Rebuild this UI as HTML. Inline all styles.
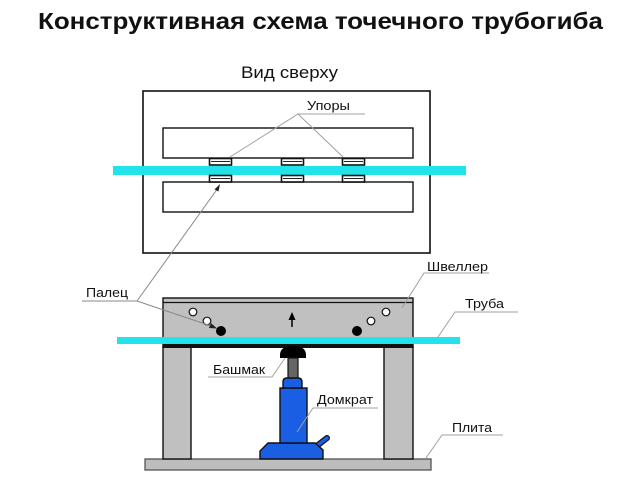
<!DOCTYPE html>
<html>
<head>
<meta charset="utf-8">
<style>
html,body{margin:0;padding:0;background:#fff;}
svg{display:block;}
text{font-family:"Liberation Sans","Noto Sans CJK SC",sans-serif;fill:#111;}
</style>
</head>
<body>
<svg width="630" height="484" viewBox="0 0 630 484" xmlns="http://www.w3.org/2000/svg">
  <!-- Title -->
  <text x="38" y="29" font-size="23" font-weight="bold" textLength="565" lengthAdjust="spacingAndGlyphs">Конструктивная схема точечного трубогиба</text>
  <text x="241" y="78" font-size="17" textLength="97" lengthAdjust="spacingAndGlyphs">Вид сверху</text>

  <!-- Top view -->
  <rect x="143" y="91" width="287" height="162" fill="#fff" stroke="#111" stroke-width="1.6"/>
  <rect x="163" y="128" width="250" height="30" fill="#fff" stroke="#111" stroke-width="1.4"/>
  <rect x="163" y="182" width="250" height="30" fill="#fff" stroke="#111" stroke-width="1.4"/>
  <rect x="113" y="166" width="353" height="9" fill="#22e3ea"/>
  <g fill="#fff" stroke="#111" stroke-width="1.6">
    <rect x="209.5" y="158.5" width="22" height="6.5"/>
    <rect x="209.5" y="175.5" width="22" height="6.5"/>
    <rect x="281.5" y="158.5" width="22" height="6.5"/>
    <rect x="281.5" y="175.5" width="22" height="6.5"/>
    <rect x="342.5" y="158.5" width="22" height="6.5"/>
    <rect x="342.5" y="175.5" width="22" height="6.5"/>
  </g>
  <g stroke="#222" stroke-width="1">
    <line x1="211" y1="161.5" x2="230" y2="161.5"/>
    <line x1="211" y1="178.5" x2="230" y2="178.5"/>
    <line x1="283" y1="161.5" x2="302" y2="161.5"/>
    <line x1="283" y1="178.5" x2="302" y2="178.5"/>
    <line x1="344" y1="161.5" x2="363" y2="161.5"/>
    <line x1="344" y1="178.5" x2="363" y2="178.5"/>
  </g>

  <!-- Upory label -->
  <text x="307" y="110" font-size="13" textLength="43" lengthAdjust="spacingAndGlyphs">Упоры</text>

  <!-- Side view: plate -->
  <rect x="145" y="459" width="286" height="11" fill="#bdbdbd" stroke="#555" stroke-width="1.3"/>
  <!-- legs -->
  <rect x="163" y="347" width="28" height="112" fill="#c0c0c0" stroke="#111" stroke-width="1.4"/>
  <rect x="384" y="347" width="29" height="112" fill="#c0c0c0" stroke="#111" stroke-width="1.4"/>
  <!-- beam -->
  <rect x="163" y="298" width="250" height="49" fill="#c0c0c0" stroke="#111" stroke-width="1.4"/>
  <line x1="163" y1="302.5" x2="413" y2="302.5" stroke="#111" stroke-width="1.2"/>
  <rect x="117" y="337" width="343" height="7" fill="#22e3ea"/>
  <rect x="163" y="344" width="250" height="4" fill="#111"/>

  <!-- holes -->
  <g fill="#fff" stroke="#111" stroke-width="1.2">
    <circle cx="193" cy="312" r="3.8"/>
    <circle cx="207" cy="321" r="3.8"/>
    <circle cx="371" cy="321" r="3.8"/>
    <circle cx="386" cy="312" r="3.8"/>
  </g>
  <circle cx="221" cy="331" r="5" fill="#000"/>
  <circle cx="357" cy="331" r="5" fill="#000"/>

  <!-- up arrow -->
  <line x1="292" y1="327" x2="292" y2="318" stroke="#000" stroke-width="1.5"/>
  <polygon points="292,312 288.5,320 295.5,320" fill="#000"/>

  <!-- jack -->
  <path d="M280,358 L280,355 Q280,346 293,346 Q306,346 306,355 L306,358 Z" fill="#000"/>
  <rect x="288" y="358" width="10" height="21" fill="#666" stroke="#111" stroke-width="1.2"/>
  <line x1="318" y1="445" x2="327" y2="438" stroke="#111" stroke-width="6" stroke-linecap="round"/>
  <line x1="318" y1="445" x2="327" y2="438" stroke="#1a5fe3" stroke-width="3.6" stroke-linecap="round"/>
  <path d="M260,459 L260,451 L268,443 L315,443 L323,450 L323,459 Z" fill="#1a5fe3" stroke="#111" stroke-width="1.4"/>
  <rect x="280" y="388" width="27" height="55" fill="#1a5fe3" stroke="#111" stroke-width="1.4"/>
  <path d="M283,388 L283,382 Q283,378 287,378 L298,378 Q302,378 302,382 L302,388 Z" fill="#1a5fe3" stroke="#111" stroke-width="1.4"/>

  <!-- leader lines (on top) -->
  <g stroke="#a0a0a0" stroke-width="1" fill="none">
    <polyline points="230,157 298,114 365,114"/>
    <line x1="298" y1="114" x2="343" y2="157"/>
    <polyline points="402,308 424,273 489,273"/>
    <polyline points="438,337 455,312 518,312"/>
    <polyline points="426,458 442,435 503,435"/>
    <polyline points="208,377 272,377 285,358"/>
    <polyline points="297,432 313,408 378,408"/>
  </g>
  <g stroke="#888" stroke-width="1" fill="none">
    <polyline points="82,301 137,301 214,327"/>
    <line x1="137" y1="301" x2="218" y2="188"/>
  </g>
  <polygon points="220,184 214.5,189.5 218.5,191.5" fill="#222"/>
  <polygon points="217,328.5 209,328 211,323" fill="#222"/>

  <text x="86" y="297" font-size="13" textLength="42" lengthAdjust="spacingAndGlyphs">Палец</text>
  <text x="427" y="271" font-size="13" textLength="61" lengthAdjust="spacingAndGlyphs">Швеллер</text>
  <text x="465" y="308" font-size="13" textLength="39" lengthAdjust="spacingAndGlyphs">Труба</text>
  <text x="452" y="432" font-size="13" textLength="40" lengthAdjust="spacingAndGlyphs">Плита</text>
  <text x="213" y="374" font-size="13" textLength="52" lengthAdjust="spacingAndGlyphs">Башмак</text>
  <text x="317" y="404" font-size="13" textLength="56" lengthAdjust="spacingAndGlyphs">Домкрат</text>
</svg>
</body>
</html>
